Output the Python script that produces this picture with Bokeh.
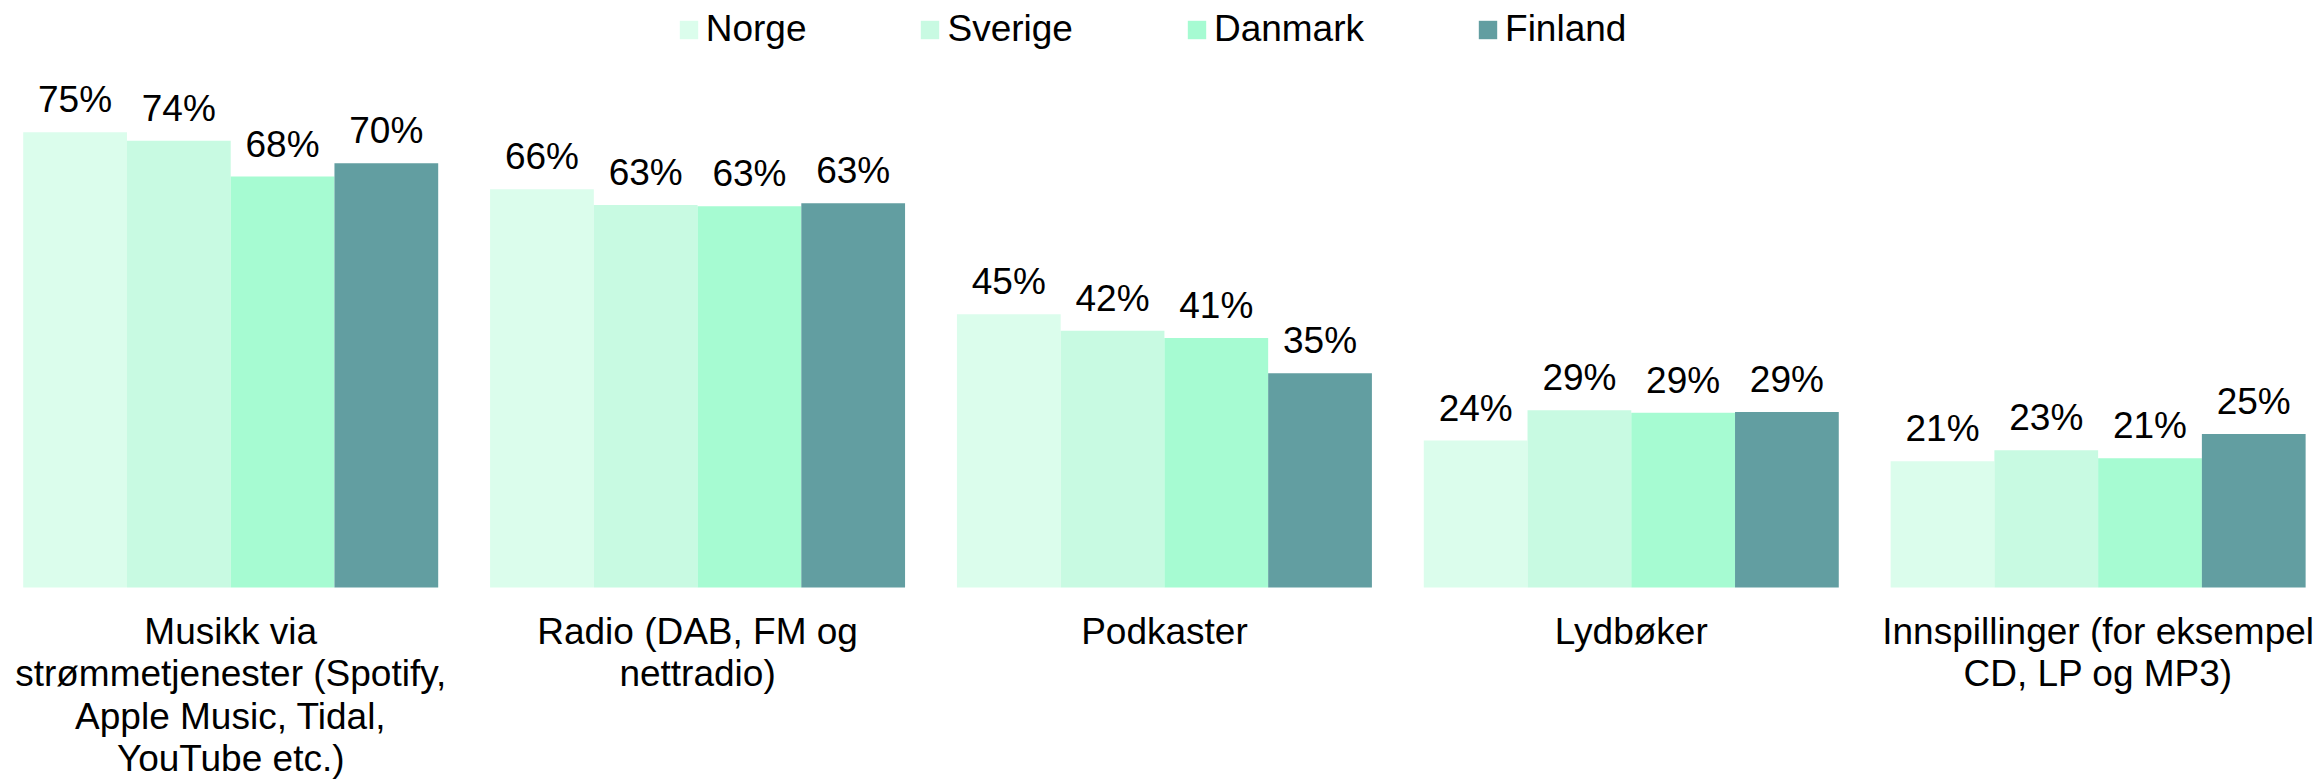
from bokeh.plotting import figure
from bokeh.models import ColumnDataSource, Range1d, LabelSet, Legend, LegendItem
from bokeh.transform import dodge
from bokeh.core.properties import value
from bokeh.embed import file_html
from bokeh.resources import INLINE

categories = [
    "Musikk via\nstrømmetjenester (Spotify,\nApple Music, Tidal,\nYouTube etc.)",
    "Radio (DAB, FM og\nnettradio)",
    "Podkaster",
    "Lydbøker",
    "Innspillinger (for eksempel\nCD, LP og MP3)",
]
countries = ["Norge", "Sverige", "Danmark", "Finland"]
norge = [75.0, 65.6, 45.0, 24.2, 20.8]
sverige = [73.6, 63.0, 42.3, 29.2, 22.6]
danmark = [67.7, 62.8, 41.1, 28.8, 21.3]
finland = [69.9, 63.3, 35.3, 28.9, 25.3]
colors = ["#DBFDEC", "#C8FAE2", "#A6FBD2", "#629EA1"]

series = {"Norge": norge, "Sverige": sverige, "Danmark": danmark, "Finland": finland}

FONT = "Liberation Sans"
FS = "37px"
BAR_W = 1 / 4.5

data = {"x": list(range(len(categories))), "cat": categories}
for c in countries:
    data[c] = series[c]
    data[c + "_lbl"] = [f"{round(v)}%" for v in series[c]]
split = [c.split("\n") for c in categories]
n_lines = max(len(s) for s in split)
for k in range(n_lines):
    data[f"line{k}"] = [s[k] if k < len(s) else "" for s in split]
src = ColumnDataSource(data)

p = figure(width=2320, height=779,
           x_range=Range1d(-0.4931, 4.4763), y_range=Range1d(-31.63, 96.71),
           x_axis_location=None, y_axis_location=None,
           min_border=0, toolbar_location=None, output_backend="svg",
           outline_line_color=None)
p.grid.visible = False
p.background_fill_color = "white"
p.border_fill_color = "white"

items = []
for i, c in enumerate(countries):
    off = (i - 1.5) * BAR_W
    r = p.vbar(x=dodge("x", off, range=p.x_range), top=c, bottom=0, width=BAR_W,
               source=src, fill_color=colors[i], line_color=None)
    items.append(LegendItem(label=c, renderers=[r]))
    p.add_layout(LabelSet(x=dodge("x", off, range=p.x_range), y=c, text=c + "_lbl",
                          source=src, y_offset=20, text_align="center",
                          text_baseline="alphabetic", text_font=value(FONT),
                          text_font_size=FS, text_color="black"))

# category labels (one LabelSet per text line so every line is centred)
for k in range(n_lines):
    p.add_layout(LabelSet(x="x", y=0, text=f"line{k}", source=src,
                          y_offset=-(56.3 + 42.5 * k),
                          text_align="center", text_baseline="alphabetic",
                          text_font=value(FONT), text_font_size=FS,
                          text_color="black"))

legend = Legend(items=items, orientation="horizontal", location=(676.7, 728.7),
                glyph_width=23, glyph_height=23, label_standoff=6, spacing=112,
                padding=0, margin=0, border_line_color=None,
                background_fill_alpha=0, label_text_font=FONT,
                label_text_font_size=FS, label_text_color="black")
p.add_layout(legend)

open("out.html", "w").write(file_html(p, INLINE))
